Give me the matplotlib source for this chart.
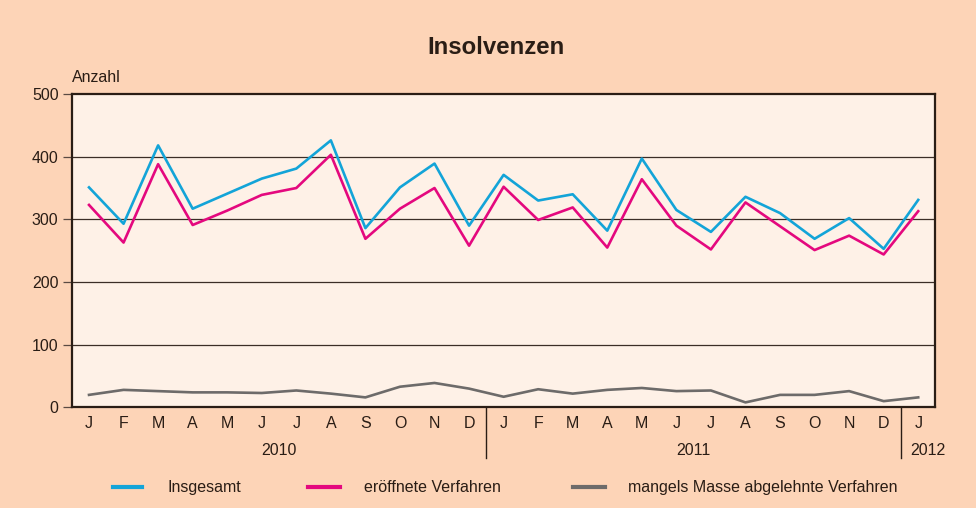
import matplotlib
matplotlib.use('Agg')
import matplotlib.pyplot as plt
from matplotlib import font_manager
from matplotlib.lines import Line2D

# pick the regular Liberation Sans (not the Narrow cut)
fam = 'DejaVu Sans'
for f in font_manager.fontManager.ttflist:
    if f.name == 'Liberation Sans':
        fam = 'Liberation Sans'
        break
plt.rcParams['font.family'] = [fam, 'DejaVu Sans']

months = ['J', 'F', 'M', 'A', 'M', 'J', 'J', 'A', 'S', 'O', 'N', 'D'] * 2 + ['J']
years = ['2010', '2011', '2012']

insgesamt = [351, 293, 418, 317, 341, 365, 381, 426, 286, 351, 389, 290,
             371, 330, 340, 282, 397, 315, 280, 336, 310, 269, 302, 253, 331]
eroeffnet = [323, 263, 388, 291, 314, 339, 350, 403, 269, 317, 350, 258,
             352, 299, 319, 255, 364, 290, 252, 327, 289, 251, 274, 244, 313]
mangels = [20, 28, 26, 24, 24, 23, 27, 22, 16, 33, 39, 30,
           17, 29, 22, 28, 31, 26, 27, 8, 20, 20, 26, 10, 16]
labels = ['Insgesamt', 'eröffnete Verfahren', 'mangels Masse abgelehnte Verfahren']

bg = '#FDD4B7'
face = '#FEF1E7'
dark = '#2a1d15'
blue = '#13A4D8'
pink = '#E4087E'
gray = '#6d6b6a'
colors = [blue, pink, gray]
fs = 11.5

fig = plt.figure(figsize=(9.76, 5.08), dpi=100, facecolor=bg)
ax = fig.add_axes([0.0735, 0.198, 0.885, 0.617])
ax.set_facecolor(face)

x = list(range(len(months)))
for vals, c in zip([insgesamt, eroeffnet, mangels], colors):
    ax.plot(x, vals, color=c, lw=1.9, zorder=3)

ax.set_xlim(-0.5, len(months) - 0.5)
ax.set_ylim(0, 500)
ax.set_yticks([0, 100, 200, 300, 400, 500])
for v in [100, 200, 300, 400]:
    ax.axhline(v, color='#3b2e27', lw=0.9, zorder=1)

ax.set_xticks(x)
ax.set_xticklabels(months, fontsize=fs, color=dark)
ax.tick_params(axis='x', length=0, pad=6)
ax.tick_params(axis='y', length=6.5, width=0.9, color='#5a4a42', labelsize=fs,
               labelcolor=dark, pad=3)
for s in ax.spines.values():
    s.set_color(dark)
    s.set_linewidth(1.6)

# year separators and labels
trans = ax.get_xaxis_transform()
for sep in [11.5, 23.5]:
    ax.plot([sep, sep], [0, -0.16], color=dark, lw=1.0, transform=trans, clip_on=False)
ax.text(5.5, -0.139, years[0], transform=trans, ha='center', va='center', fontsize=fs, color=dark)
ax.text(17.5, -0.139, years[1], transform=trans, ha='center', va='center', fontsize=fs, color=dark)
ax.text(23.78, -0.139, years[2], transform=trans, ha='left', va='center', fontsize=fs, color=dark)

fig.text(0.0735, 0.847, 'Anzahl', fontsize=fs, color=dark, ha='left', va='center')
fig.text(0.508, 0.906, 'Insolvenzen', fontsize=17.3, fontweight='bold', color=dark,
         ha='center', va='center')

# legend drawn by hand to match spacing
leg_x = [(0.1158, 0.1455, 0.172), (0.3156, 0.3484, 0.373), (0.587, 0.620, 0.6434)]
for (x0, x1, tx), c, lab in zip(leg_x, colors, labels):
    fig.add_artist(Line2D([x0, x1], [0.0413, 0.0413], color=c, lw=3,
                          transform=fig.transFigure))
    fig.text(tx, 0.0413, lab, fontsize=fs, color=dark, ha='left', va='center')

fig.savefig('out.png', dpi=100, facecolor=bg)
